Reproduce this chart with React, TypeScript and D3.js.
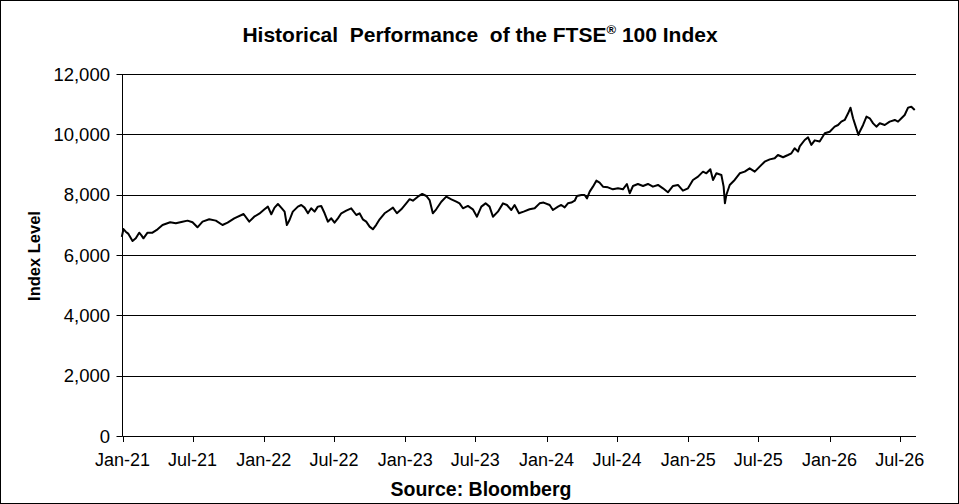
import React from "react";
import * as d3 from "d3";

// Years after 1 Jan 2021
const yearOffset: number[] = [
  -0.005, 0.007, 0.023, 0.042, 0.071, 0.094, 0.118, 0.134, 0.148, 0.177, 0.212, 0.248, 0.283, 0.337, 0.377,
  0.424, 0.46, 0.495, 0.53, 0.566, 0.613, 0.66, 0.707, 0.743, 0.79, 0.856, 0.896, 0.931, 0.967,
  1.004, 1.028, 1.052, 1.075, 1.099, 1.122, 1.146, 1.162, 1.181, 1.204, 1.24, 1.264, 1.287, 1.311, 1.334,
  1.358, 1.381, 1.405, 1.429, 1.452, 1.476, 1.499, 1.523, 1.547, 1.582, 1.617, 1.653, 1.676, 1.699, 1.723,
  1.747, 1.77, 1.794, 1.818, 1.853, 1.888, 1.912, 1.94, 1.971,
  2.006, 2.03, 2.053, 2.088, 2.119, 2.148, 2.171, 2.194, 2.218, 2.254, 2.289, 2.325, 2.36, 2.383, 2.407,
  2.442, 2.477, 2.506, 2.537, 2.567, 2.595, 2.619, 2.654, 2.69, 2.718, 2.749, 2.772, 2.803, 2.836, 2.878,
  2.914, 2.949, 2.977,
  3.02, 3.043, 3.079, 3.102, 3.126, 3.149, 3.173, 3.197, 3.213, 3.244, 3.267, 3.284, 3.303, 3.326, 3.35,
  3.373, 3.397, 3.432, 3.467, 3.503, 3.538, 3.566, 3.586, 3.609, 3.644, 3.68, 3.715, 3.75, 3.786, 3.821,
  3.856, 3.892, 3.927, 3.962, 3.998,
  4.033, 4.069, 4.104, 4.128, 4.156, 4.175, 4.199, 4.234, 4.25, 4.259, 4.269, 4.293, 4.328, 4.364, 4.399,
  4.434, 4.47, 4.505, 4.54, 4.576, 4.611, 4.634, 4.67, 4.705, 4.729, 4.752, 4.776, 4.788, 4.823, 4.847,
  4.87, 4.894, 4.929, 4.965,
  5.0, 5.035, 5.059, 5.082, 5.106, 5.13, 5.147, 5.165, 5.184, 5.203, 5.212, 5.236, 5.26, 5.283, 5.307,
  5.33, 5.354, 5.389, 5.424, 5.46, 5.483, 5.507, 5.53, 5.554, 5.577, 5.601,
];

const indexLevel: number[] = [
  6600, 6860, 6773, 6700, 6464, 6553, 6740, 6650, 6553, 6740, 6740, 6852, 6995, 7084, 7050,
  7105, 7139, 7084, 6918, 7105, 7183, 7139, 6995, 7073, 7216, 7359, 7105, 7270, 7370,
  7515, 7603, 7350, 7570, 7691, 7570, 7437, 6995, 7160, 7437, 7603, 7658, 7570, 7383, 7548,
  7437, 7603, 7625, 7383, 7105, 7216, 7072, 7216, 7383, 7470, 7548, 7326, 7383, 7183, 7105,
  6940, 6852, 7000, 7183, 7383, 7492, 7570, 7383, 7515,
  7714, 7850, 7800, 7934, 8023, 7956, 7823, 7383, 7515, 7767, 7934, 7845, 7767, 7712, 7548,
  7626, 7515, 7270, 7603, 7712, 7603, 7270, 7437, 7712, 7658, 7492, 7658, 7383, 7437, 7515,
  7548, 7712, 7737,
  7658, 7492, 7603, 7658, 7580, 7714, 7737, 7800, 7956, 7990, 7990, 7878, 8100, 8266, 8465,
  8400, 8266, 8244, 8177, 8211, 8177, 8354, 8045, 8288, 8354, 8288, 8354, 8266, 8322, 8211,
  8078, 8288, 8322, 8133, 8211,
  8487, 8597, 8763, 8708, 8840, 8487, 8708, 8652, 8266, 7714, 7990, 8320, 8487, 8708, 8763,
  8874, 8763, 8930, 9093, 9170, 9205, 9315, 9240, 9315, 9372, 9538, 9426, 9600, 9812, 9900,
  9650, 9800, 9760, 10034,
  10088, 10254, 10310, 10420, 10476, 10698, 10884, 10532, 10254, 9978, 10088, 10310, 10586, 10532, 10365,
  10254, 10365, 10310, 10420, 10476, 10420, 10532, 10640, 10884, 10917, 10807,
];

const yTicks: number[] = [0, 2000, 4000, 6000, 8000, 10000, 12000];
const xTickDates: Date[] = d3.timeMonth.range(new Date(2021, 0, 1), new Date(2026, 7, 1), 6);

const W = 959;
const H = 504;
const M = { left: 122.5, right: 916, top: 74, bottom: 436 };
const FONT = "'Liberation Sans', Arial, sans-serif";

const start = new Date(2021, 0, 1);
const toDate = (t: number) => new Date(start.getTime() + t * 365.25 * 86400000);

export default function App() {
  const x = d3.scaleTime().domain([start, toDate(5.61)]).range([M.left, M.right]);
  const y = d3.scaleLinear().domain([0, 12000]).range([M.bottom, M.top]);
  const fmt = d3.timeFormat("%b-%y");
  const pts: [Date, number][] = yearOffset.map((t, i) => [toDate(t), indexLevel[i]]);
  const line = d3
    .line<[Date, number]>()
    .x((d) => x(d[0]))
    .y((d) => y(d[1]));

  return (
    <div style={{ position: "absolute", left: 0, top: 0 }}>
      <svg width={W} height={H} style={{ display: "block", background: "#fff" }}>
        <rect x={0.5} y={0.5} width={W - 1} height={H - 1} fill="#fff" stroke="#000" strokeWidth={1} />
        <text
          x={480}
          y={42}
          textAnchor="middle"
          fontFamily={FONT}
          fontWeight="bold"
          fontSize={21}
          fill="#000"
          xmlSpace="preserve"
        >
          Historical  Performance  of the FTSE
          <tspan fontSize={13} dy={-8}>®</tspan>
          <tspan dy={8}> 100 Index</tspan>
        </text>

        {yTicks.map((v) => (
          <g key={v}>
            <line x1={M.left} x2={M.right} y1={Math.round(y(v)) + 0.5} y2={Math.round(y(v)) + 0.5} stroke="#000" strokeWidth={1} />
            <line x1={M.left - 6} x2={M.left} y1={Math.round(y(v)) + 0.5} y2={Math.round(y(v)) + 0.5} stroke="#000" strokeWidth={1} />
            <text x={110} y={y(v) + 6.5} textAnchor="end" fontFamily={FONT} fontSize={18.5} fill="#000">
              {d3.format(",")(v)}
            </text>
          </g>
        ))}
        <line x1={M.left} x2={M.left} y1={M.top} y2={M.bottom + 0.5} stroke="#000" strokeWidth={1} />

        {xTickDates.map((d) => (
          <g key={d.getTime()}>
            <line x1={Math.round(x(d)) + 0.5} x2={Math.round(x(d)) + 0.5} y1={M.bottom} y2={M.bottom + 6} stroke="#000" strokeWidth={1} />
            <text x={x(d)} y={466} textAnchor="middle" fontFamily={FONT} fontSize={18} fill="#000">
              {fmt(d)}
            </text>
          </g>
        ))}

        <path d={line(pts) || ""} fill="none" stroke="#000" strokeWidth={2} strokeLinejoin="round" />

        <text
          transform={`translate(40,256) rotate(-90)`}
          textAnchor="middle"
          fontFamily={FONT}
          fontWeight="bold"
          fontSize={16.5}
          fill="#000"
        >
          Index Level
        </text>
        <text x={481} y={496} textAnchor="middle" fontFamily={FONT} fontWeight="bold" fontSize={19.5} fill="#000">
          Source: Bloomberg
        </text>
      </svg>
    </div>
  );
}
